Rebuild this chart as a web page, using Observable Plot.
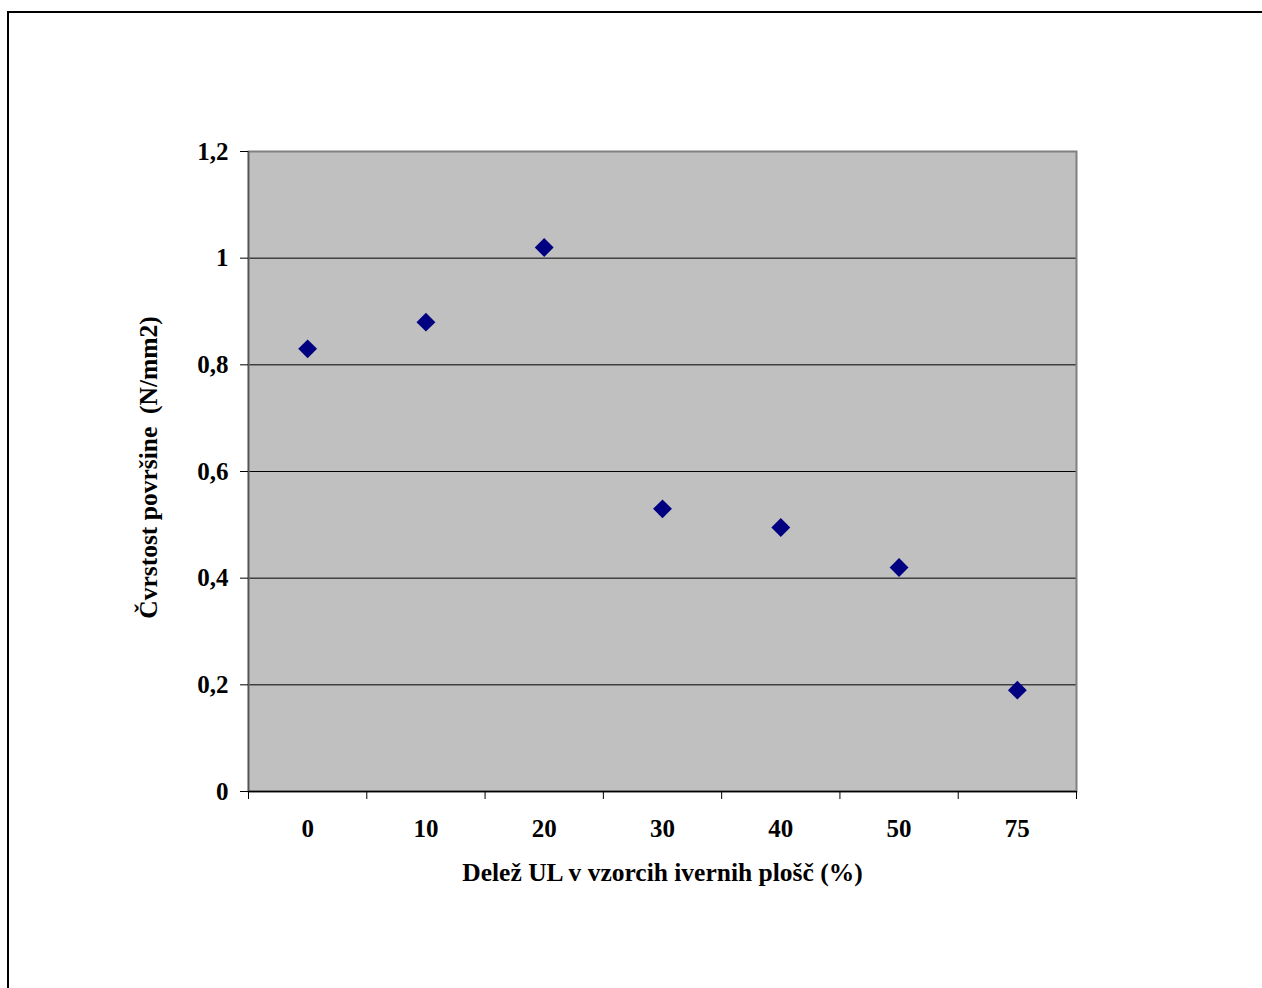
<!DOCTYPE html>
<html>
<head>
<meta charset="utf-8">
<script src="https://cdn.jsdelivr.net/npm/d3@7"></script>
<script src="https://cdn.jsdelivr.net/npm/@observablehq/plot@0.6"></script>
<style>
  html, body { margin: 0; padding: 0; background: #fff; overflow: hidden; }
  #frame { position: absolute; left: 7px; top: 11px; width: 1300px; height: 1000px;
           border-left: 2px solid #000; border-top: 2px solid #000; box-sizing: border-box; }
  #chart { position: absolute; left: 0; top: 0; }
</style>
</head>
<body>
<div id="frame"></div>
<div id="chart"></div>
<script>
const categories = ["0", "10", "20", "30", "40", "50", "75"];
const values = [0.83, 0.88, 1.02, 0.53, 0.495, 0.42, 0.19];
const yTicks = [0, 0.2, 0.4, 0.6, 0.8, 1, 1.2];
const xTitle = "Delež UL v vzorcih ivernih plošč (%)";
const yTitle = "Čvrstost površine  (N/mm2)";

const data = categories.map((c, i) => ({i, c, v: values[i]}));
const idx = d3.range(categories.length);
const bounds = d3.range(categories.length + 1).map(i => i - 0.5);
const fmt = v => String(+v.toFixed(1)).replace(".", ",");
const font = "'Liberation Serif', 'Times New Roman', serif";

const chart = Plot.plot({
  width: 1262,
  height: 988,
  marginLeft: 248,
  marginRight: 186,
  marginTop: 151,
  marginBottom: 197,
  style: {fontFamily: font, fontSize: "25px", fontWeight: "bold", color: "#000", background: "transparent"},
  x: {type: "linear", domain: [-0.5, categories.length - 0.5]},
  y: {domain: [0, 1.2]},
  marks: [
    Plot.frame({fill: "#c0c0c0", stroke: "none"}),
    Plot.ruleY(yTicks, {stroke: "#000", strokeWidth: 1}),
    Plot.frame({stroke: "#808080", strokeWidth: 2}),
    Plot.ruleY([0], {stroke: "#000", strokeWidth: 1.5}),
    Plot.ruleX([-0.5], {stroke: "#555", strokeWidth: 1.5}),
    Plot.axisY(yTicks, {tickFormat: fmt, tickSize: 8, tickPadding: 12, stroke: "#000", label: null, fontSize: 25, fontWeight: "bold"}),
    Plot.axisX(bounds, {tickFormat: () => "", tickSize: 8, stroke: "#000", label: null}),
    Plot.axisX(idx, {tickFormat: i => categories[i], tickSize: 0, tickPadding: 28, label: null, fontSize: 25, fontWeight: "bold"}),
    Plot.dot(data, {x: "i", y: "v", symbol: "diamond2", r: 8.5, fill: "#000080", stroke: "none"}),
    Plot.text([xTitle], {frameAnchor: "bottom", dy: 89, text: d => d, fontSize: 25.5, fontWeight: "bold"}),
    Plot.text([yTitle], {frameAnchor: "left", textAnchor: "middle", dx: -100, dy: -4, rotate: -90, text: d => d, fontSize: 25.5, fontWeight: "bold"})
  ]
});
document.getElementById("chart").appendChild(chart);
</script>
</body>
</html>
